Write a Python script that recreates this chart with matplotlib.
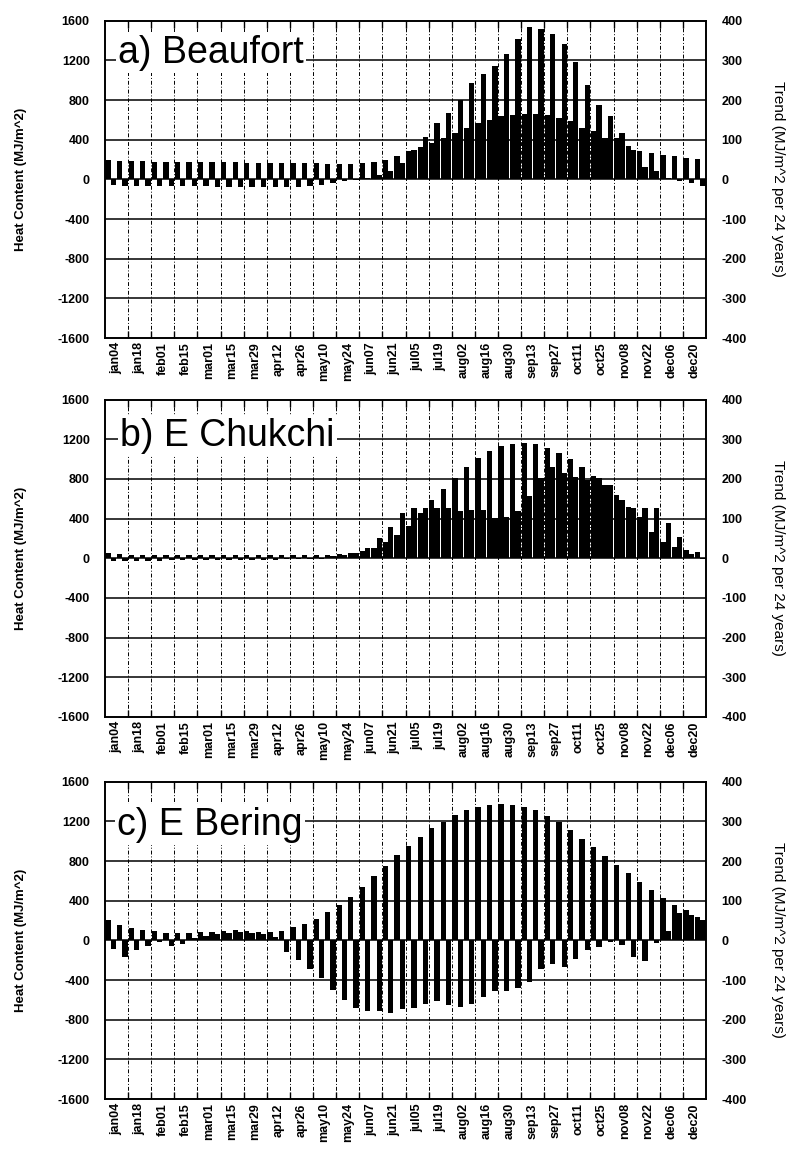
import matplotlib
matplotlib.use("Agg")
import matplotlib.pyplot as plt
import numpy as np

plt.rcParams['font.family'] = ['Liberation Sans', 'DejaVu Sans']
plt.rcParams['axes.unicode_minus'] = False

weeks = np.arange(52)
date_labels = ["jan04", "jan18", "feb01", "feb15", "mar01", "mar15", "mar29", "apr12",
               "apr26", "may10", "may24", "jun07", "jun21", "jul05", "jul19", "aug02",
               "aug16", "aug30", "sep13", "sep27", "oct11", "oct25", "nov08", "nov22",
               "dec06", "dec20"]

# Heat content (MJ/m^2, left axis) and trend (MJ/m^2 per 24 years, right axis)
beaufort_heat = [195, 190, 185, 182, 180, 178, 175, 175, 172, 172, 170, 170, 168, 168, 165, 165,
                 165, 162, 160, 155, 150, 155, 165, 180, 197, 231, 282, 330, 366, 417, 467, 518,
                 569, 602, 636, 653, 660, 660, 653, 619, 586, 518, 484, 417, 417, 332, 282, 265,
                 248, 231, 220, 209]
beaufort_trend = [-15, -18, -18, -17, -18, -18, -18, -18, -18, -19, -19, -19, -19, -19, -19, -20,
                  -19, -18, -15, -10, -5, -2, 3, 11, 20, 41, 75, 106, 142, 167, 201, 243,
                  266, 286, 317, 353, 383, 378, 367, 342, 297, 237, 187, 159, 117, 75, 32, 20,
                  3, -4, -10, -18]

chukchi_heat = [50, 42, 38, 36, 34, 33, 32, 32, 31, 31, 30, 30, 30, 30, 30, 30,
                31, 32, 34, 38, 47, 54, 75, 105, 165, 233, 330, 453, 588, 700, 813, 922,
                1010, 1079, 1130, 1157, 1163, 1155, 1117, 1060, 999, 925, 830, 739, 638, 513, 420, 267,
                165, 115, 81, 64]
chukchi_trend = [-8, -8, -7, -6, -6, -5, -5, -5, -5, -5, -5, -4, -4, -4, -4, -3,
                 -3, -3, -2, 5, 8, 13, 25, 50, 80, 114, 126, 126, 126, 126, 118, 122,
                 121, 102, 105, 119, 156, 202, 231, 214, 204, 197, 202, 185, 147, 128, 128, 126,
                 90, 54, 12, -3]

bering_heat = [202, 151, 125, 105, 90, 78, 75, 75, 80, 88, 95, 100, 95, 85, 80, 95,
               130, 168, 218, 286, 353, 437, 538, 645, 746, 857, 950, 1043, 1129, 1197, 1265, 1310,
               1344, 1368, 1375, 1361, 1341, 1310, 1255, 1197, 1111, 1026, 940, 855, 763, 674, 588, 503,
               427, 359, 308, 240]
bering_trend = [-21, -42, -25, -15, -4, -15, -8, 5, 10, 15, 18, 22, 18, 15, 8, -29,
                -50, -71, -96, -125, -150, -171, -179, -179, -183, -173, -170, -161, -154, -164, -169, -161,
                -144, -127, -127, -119, -106, -72, -59, -68, -47, -24, -17, -4, -13, -42, -51, -7,
                23, 68, 64, 51]

panels = [
    ("a) Beaufort", beaufort_heat, beaufort_trend, 0.7058, (0.022, 0.868)),
    ("b) E Chukchi", chukchi_heat, chukchi_trend, 0.3760, (0.025, 0.855)),
    ("c) E Bering", bering_heat, bering_trend, 0.0435, (0.020, 0.833)),
]

fig = plt.figure(figsize=(7.9, 11.49), dpi=100)
W = 0.46
for title, heat, trend, bottom, tpos in panels:
    ax = fig.add_axes([0.1329, bottom, 0.7608, 0.2762])
    ax2 = ax.twinx()
    ax.set_xlim(0, 52)
    ax.set_ylim(-1600, 1600)
    ax2.set_ylim(-400, 400)

    # gridlines
    for yv in [-1200, -800, -400, 0, 400, 800, 1200]:
        ax.axhline(yv, color='black', lw=1.1, zorder=1)
    for xv in range(2, 52, 2):
        ax.axvline(xv, color='black', lw=0.7, ls=(0, (4, 2, 1, 2)), zorder=1)

    ax.bar(weeks + 0.27, heat, width=W, color='black', zorder=2)
    ax2.bar(weeks + 0.73, trend, width=W, color='black', zorder=2)

    ax.set_yticks(np.arange(-1600, 1601, 400))
    ax.set_yticklabels([str(v) for v in range(-1600, 1601, 400)], fontsize=9, fontweight='bold')
    ax2.set_yticks(np.arange(-400, 401, 100))
    ax2.set_yticklabels([str(v) for v in range(-400, 401, 100)], fontsize=9, fontweight='bold')
    ax.tick_params(axis='y', length=0, pad=11)
    ax2.tick_params(axis='y', length=0, pad=11)

    ax.set_xticks(np.arange(1, 52, 2))
    ax.set_xticklabels(date_labels, rotation=90, fontsize=9, fontweight='bold')
    ax.tick_params(axis='x', which='major', length=0, pad=3)
    ax.set_xticks(np.arange(2, 52, 2), minor=True)
    ax.tick_params(axis='x', which='minor', direction='in', length=5, width=1.0,
                   top=True, bottom=True)

    for sp in list(ax.spines.values()) + list(ax2.spines.values()):
        sp.set_linewidth(1.2)

    ax.set_ylabel("Heat Content (MJ/m^2)", fontsize=9.5, fontweight='bold', labelpad=22)
    ax2.set_ylabel("Trend (MJ/m^2 per 24 years)", fontsize=11,
                   rotation=270, labelpad=28)

    ax2.text(tpos[0], tpos[1], title, transform=ax2.transAxes, fontsize=27,
             va='baseline', ha='left', zorder=5,
             bbox=dict(facecolor='white', edgecolor='none', pad=1.5))

fig.savefig("out.png", dpi=100)
